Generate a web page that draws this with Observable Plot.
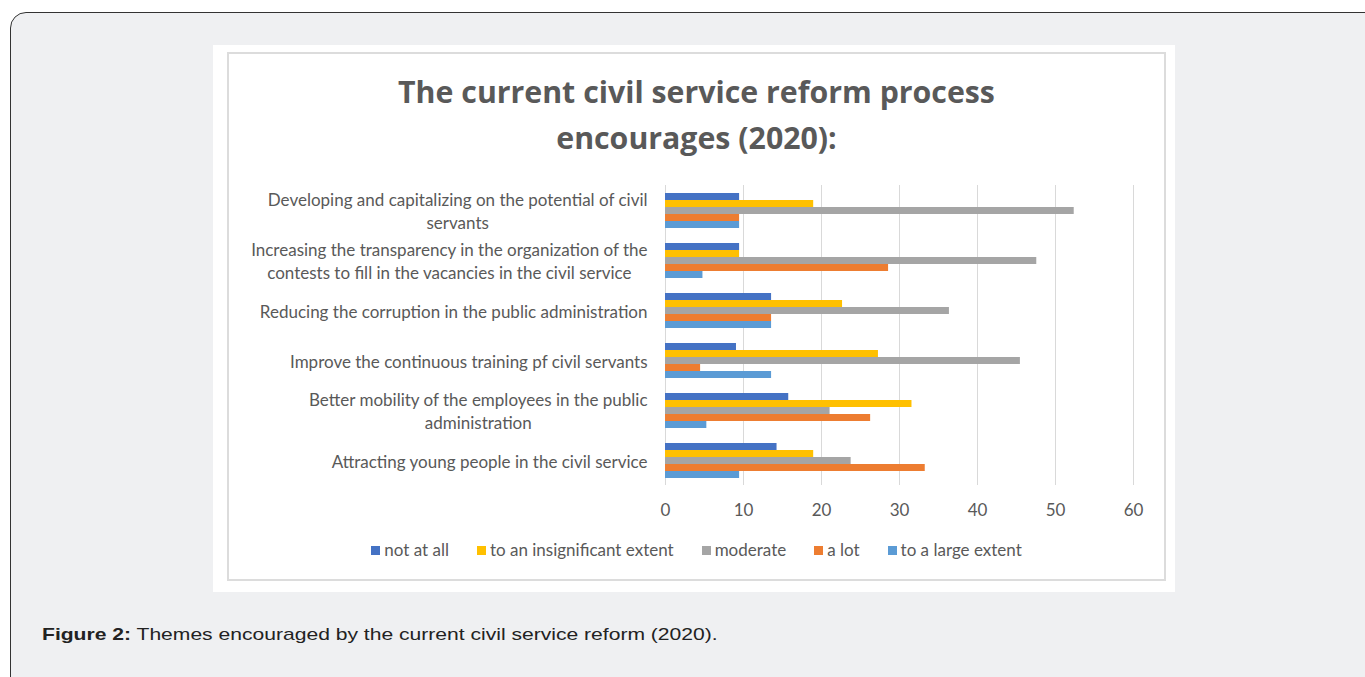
<!DOCTYPE html>
<html>
<head>
<meta charset="utf-8">
<script src="https://cdn.jsdelivr.net/npm/d3@7"></script>
<script src="https://cdn.jsdelivr.net/npm/@observablehq/plot@0.6"></script>
<style>
  html, body { margin: 0; padding: 0; background: #ffffff; width: 1365px; height: 677px; overflow: hidden; position: relative; }
  #frame { position: absolute; left: 10px; top: 12px; width: 1400px; height: 700px; border: 1.5px solid #333; border-radius: 16px; background: #eff0f2; box-sizing: border-box; }
  #photo { position: absolute; left: 213px; top: 45px; width: 962px; height: 547px; background: #ffffff; }
  #chartbox { position: absolute; left: 227px; top: 52px; width: 939px; height: 529px; border: 2px solid #dcdcdc; box-sizing: border-box; background: #fff; }
  #title { position: absolute; left: 227px; top: 69px; width: 939px; text-align: center; font-family: "Open Sans", sans-serif; font-weight: 700; font-size: 30.3px; line-height: 46px; color: #595959; }
  #plot { position: absolute; left: 228px; top: 170px; }
  #legend { position: absolute; left: 227px; top: 540px; width: 939px; display: flex; justify-content: center; font-family: Lato, sans-serif; font-size: 17px; line-height: 20px; color: #595959; }
  #legend .item { display: inline-flex; align-items: center; margin: 0 14px; }
  #legend .sw { width: 9px; height: 9px; margin-right: 4px; display: inline-block; }
  #caption { position: absolute; left: 42px; top: 625px; font-family: "Liberation Sans", Arial, sans-serif; font-size: 17px; line-height: 20px; color: #222; white-space: nowrap; transform: scaleX(1.24); transform-origin: left center; }
</style>
</head>
<body>
<div id="frame"></div>
<div id="photo"></div>
<div id="chartbox"></div>
<div id="title">The current civil service reform process<br>encourages (2020):</div>
<div id="plot"></div>
<div id="legend"></div>
<div id="caption"><b>Figure 2:</b> Themes encouraged by the current civil service reform (2020).</div>
<script>
// ---- data ----
const themes = [
  "Developing and capitalizing on the potential of civil servants",
  "Increasing the transparency in the organization of the contests to fill in the vacancies in the civil service",
  "Reducing the corruption in the public administration",
  "Improve the continuous training pf civil servants",
  "Better mobility of the employees in the public administration",
  "Attracting young people in the civil service"
];
const themeLabels = [
  "Developing and capitalizing on the potential of civil\nservants",
  "Increasing the transparency in the organization of the\ncontests to fill in the vacancies in the civil service",
  "Reducing the corruption in the public administration",
  "Improve the continuous training pf civil servants",
  "Better mobility of the employees in the public\nadministration",
  "Attracting young people in the civil service"
];
const series = ["not at all", "to an insignificant extent", "moderate", "a lot", "to a large extent"];
const colors = ["#4472C4", "#FFC000", "#A5A5A5", "#ED7D31", "#5B9BD5"];
const notAtAll      = [9.5, 9.5, 13.6, 9.1, 15.8, 14.3];
const insignificant = [19.0, 9.5, 22.7, 27.3, 31.6, 19.0];
const moderate      = [52.4, 47.6, 36.4, 45.5, 21.1, 23.8];
const aLot          = [9.5, 28.6, 13.6, 4.5, 26.3, 33.3];
const largeExtent   = [9.5, 4.8, 13.6, 13.6, 5.3, 9.5];
const xTicks = [0, 10, 20, 30, 40, 50, 60];

const valuesBySeries = [notAtAll, insignificant, moderate, aLot, largeExtent];
const rows = [];
themes.forEach((t, i) => series.forEach((s, j) => rows.push({theme: t, series: s, value: valuesBySeries[j][i]})));
const labelOf = new Map(themes.map((t, i) => [t, themeLabels[i]]));

const chart = Plot.plot({
  width: 938,
  height: 350,
  marginLeft: 437,
  marginRight: 33,
  marginTop: 14,
  marginBottom: 34,
  style: {background: "transparent", fontFamily: "Lato, sans-serif", color: "#595959"},
  x: {domain: [0, 60], axis: null, label: null},
  y: {domain: series, paddingInner: 0, paddingOuter: 0.9, axis: null, label: null},
  fy: {domain: themes, padding: 0, axis: null, label: null},
  color: {domain: series, range: colors},
  marks: [
    Plot.gridX(xTicks, {stroke: "#d9d9d9", strokeOpacity: 1, strokeWidth: 1}),
    Plot.barX(rows, {x: "value", y: "series", fy: "theme", fill: "series"}),
    Plot.axisX(xTicks, {tickSize: 0, tickPadding: 18, fontSize: 17, fill: "#595959", label: null}),
    Plot.axisFy({anchor: "left", tickSize: 0, tickPadding: 18, fontSize: 17, lineHeight: 1.36, fill: "#595959", label: null, tickFormat: d => labelOf.get(d)})
  ]
});
document.getElementById("plot").appendChild(chart);

// center wrapped lines within their label block (like the spreadsheet chart)
chart.querySelectorAll("text").forEach(t => {
  const spans = t.querySelectorAll("tspan");
  if (spans.length > 1) {
    let w = 0;
    spans.forEach(s => { w = Math.max(w, s.getComputedTextLength()); });
    t.setAttribute("text-anchor", "middle");
    spans.forEach(s => s.setAttribute("x", -w / 2));
  }
});

// legend
const lg = document.getElementById("legend");
series.forEach((s, i) => {
  const it = document.createElement("span");
  it.className = "item";
  it.innerHTML = `<span class="sw" style="background:${colors[i]}"></span>${s}`;
  lg.appendChild(it);
});
</script>
</body>
</html>
